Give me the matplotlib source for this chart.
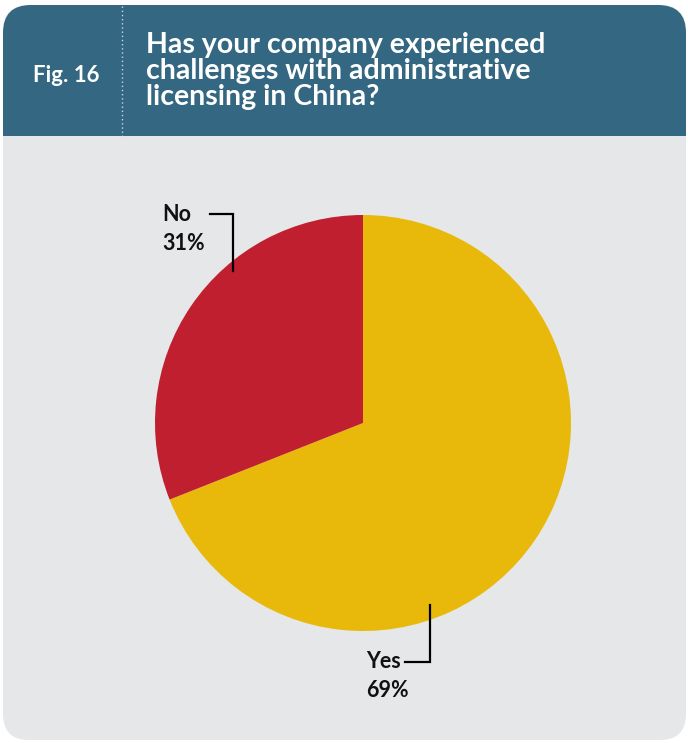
import matplotlib
matplotlib.use("Agg")
import matplotlib.pyplot as plt
from matplotlib.patches import FancyBboxPatch, Rectangle

# survey answers
labels = ["Yes", "No"]
shares = [69, 31]
colors = ["#e8b90b", "#c01f2f"]

fig_label = "Fig. 16"
title = "Has your company experienced\nchallenges with administrative\nlicensing in China?"

W, H = 688, 743
HEADER_BLUE = "#346781"
PANEL_GREY = "#e6e7e9"

plt.rcParams["font.family"] = ["Lato", "DejaVu Sans"]

fig = plt.figure(figsize=(W / 100, H / 100), dpi=100)
ax = fig.add_axes([0, 0, 1, 1])


def py(y):
    # pixel row (top-down) -> data y
    return H - y


# card body
ax.add_patch(FancyBboxPatch((3 + 26, py(740) + 26), 683 - 52, 735 - 52,
                            boxstyle="round,pad=26", fc=PANEL_GREY, ec="none"))
# header band: rounded on top, square at the bottom
ax.add_patch(FancyBboxPatch((3 + 28, py(136) + 28), 683 - 56, 131 - 56,
                            boxstyle="round,pad=28", fc=HEADER_BLUE, ec="none"))
ax.add_patch(Rectangle((3, py(136)), 683, 60, fc=HEADER_BLUE, ec="none"))

# dotted divider in the header
ax.plot([122, 122], [py(6), py(136)], color="#c9d6de", lw=1, ls=(0, (1, 2)))

ax.text(33, py(76), fig_label, color="white", fontsize=16, fontweight="bold",
        va="center", ha="left")
ax.text(146, py(71), title, color="white", fontsize=20.5, fontweight="bold",
        va="center", ha="left", linespacing=1.0)

# pie
cx, cy, r = 363, py(423), 208
ax.pie(shares, colors=colors, startangle=90, counterclock=False,
       center=(cx, cy), radius=r, frame=True,
       wedgeprops=dict(linewidth=0))
ax.set_xlim(0, W)
ax.set_ylim(0, H)
ax.set_aspect("equal")
ax.axis("off")

# leader lines and labels
ax.plot([210, 233, 233], [py(214), py(214), py(271)], color="black", lw=1.6,
        solid_joinstyle="miter")
ax.text(162, py(204), f"{labels[1]}\n{shares[1]}%", fontsize=15.5, fontweight="bold",
        va="top", ha="left", linespacing=1.45, color="#111111")

ax.plot([430, 430, 405], [py(605), py(662), py(662)], color="black", lw=1.6,
        solid_joinstyle="miter")
ax.text(366, py(651), f"{labels[0]}\n{shares[0]}%", fontsize=15.5, fontweight="bold",
        va="top", ha="left", linespacing=1.45, color="#111111")

fig.savefig("out.png", dpi=100, facecolor="white")
